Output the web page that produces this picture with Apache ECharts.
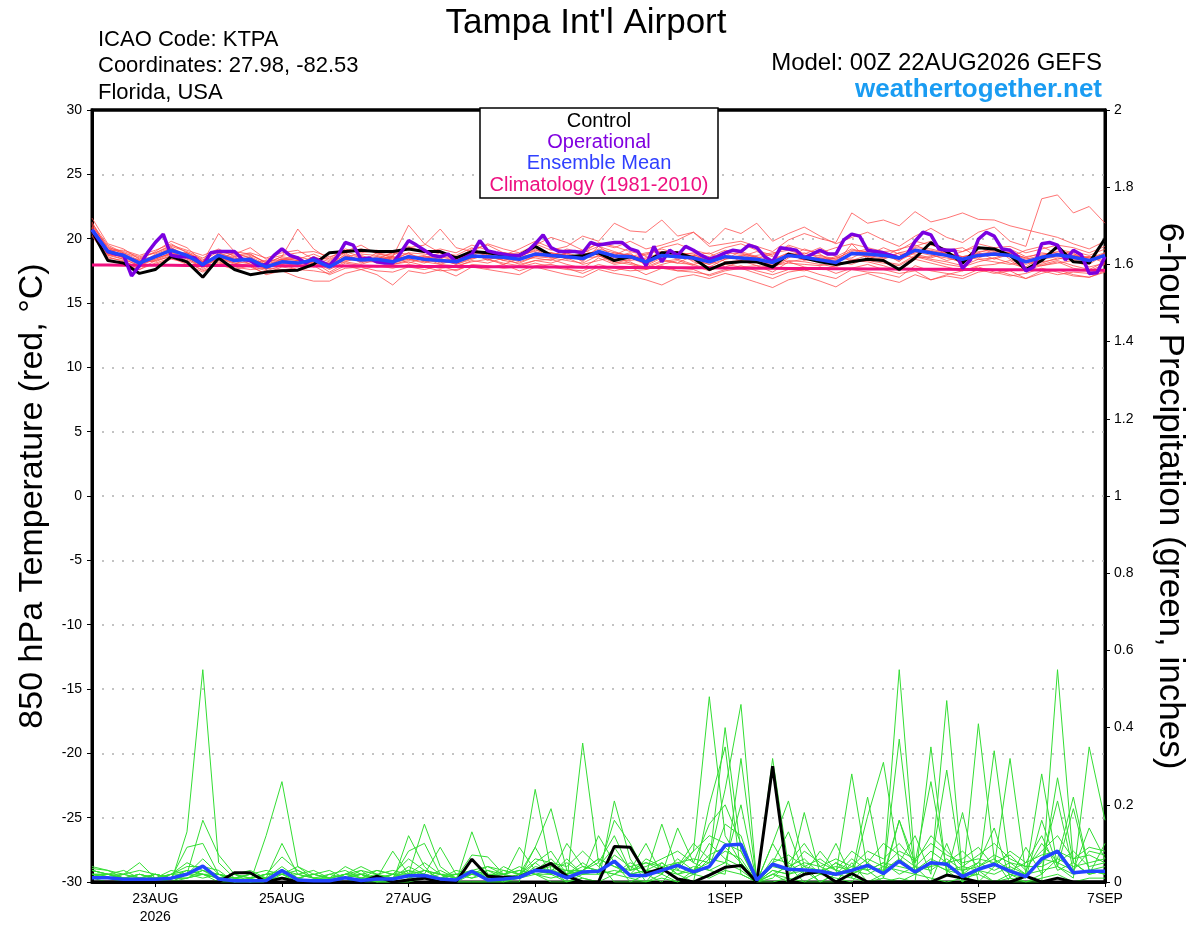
<!DOCTYPE html>
<html>
<head>
<meta charset="utf-8">
<title>Tampa Int'l Airport - GEFS</title>
<script src="https://cdn.jsdelivr.net/npm/echarts@6/dist/echarts.min.js"></script>
<style>
  html, body { margin: 0; padding: 0; background: #fff; }
  #chart { width: 1200px; height: 927px; }
</style>
</head>
<body>
<div id="chart"></div>
<script>
// 时间轴：22AUG 00Z 起，每 6 小时一个值（运行预报为 3 小时）
const tickHours = [24, 72, 120, 168, 240, 288, 336, 384];
const tickLabels = ['23AUG\n2026', '25AUG', '27AUG', '29AUG', '1SEP', '3SEP', '5SEP', '7SEP'];

// 850 hPa 温度 (°C)
const tempControl = [20.6,18.3,18.1,17.3, 17.6,18.6,18.2,17.0, 18.5,17.6,17.2,17.4, 17.5,17.55,18.0,18.9,
  19.0,19.1,19.0,19.0, 19.2,19.0,19.0,18.5, 19.0,18.9,18.7,18.7, 19.4,18.7,18.6,18.7,
  18.9,18.3,18.6,18.2, 18.9,18.9,18.5,17.6, 18.1,18.2,18.2,17.8, 18.8,18.5,18.2,18.0,
  18.2,18.4,18.3,17.6, 18.5,19.7,19.0,18.1, 19.3,19.2,18.7,17.6, 18.3,19.4,18.2,18.1, 20.0];

const tempMean = [20.7,19.0,18.7,18.1, 18.6,19.1,18.7,18.0, 18.7,18.3,18.4,17.8, 18.2,18.1,18.35,17.8,
  18.5,18.35,18.4,18.2, 18.6,18.4,18.3,18.2, 18.65,18.6,18.55,18.4, 18.8,18.7,18.6,18.45,
  19.0,18.65,18.6,18.2, 18.7,18.6,18.5,18.2, 18.6,18.5,18.4,18.15, 18.7,18.55,18.35,18.15,
  18.85,18.8,18.7,18.5, 19.1,18.9,18.7,18.4, 18.7,18.8,18.7,18.2, 18.55,18.75,18.55,18.3, 18.7];

const tempClim = [17.95,17.95,17.94,17.94, 17.93,17.93,17.92,17.92, 17.91,17.91,17.90,17.90, 17.89,17.89,17.88,17.88,
  17.87,17.87,17.86,17.85, 17.85,17.84,17.84,17.83, 17.83,17.82,17.81,17.81, 17.80,17.80,17.79,17.78,
  17.78,17.77,17.76,17.76, 17.75,17.74,17.74,17.73, 17.72,17.71,17.71,17.70, 17.69,17.68,17.68,17.67,
  17.66,17.65,17.65,17.64, 17.63,17.62,17.62,17.61, 17.60,17.59,17.59,17.58, 17.57,17.56,17.56,17.55, 17.55];

// 运行预报 3 小时一个值
const tempOper = [20.7,19.8,19.0,18.8,18.7,17.1,17.9,18.9, 19.7,20.35,18.7,18.6,18.6,18.5,17.9,18.9,
  19.0,19.0,19.0,18.4,18.3,17.9,18.0,18.7, 19.2,18.7,18.5,18.1,18.5,18.2,17.9,18.6,
  19.7,19.5,18.4,18.5,18.2,18.1,18.1,18.9, 19.85,19.5,19.1,18.7,18.6,18.8,18.2,18.5,
  18.8,19.85,19.05,18.9,18.8,18.7,18.7,19.0, 19.6,20.3,19.3,19.0,19.0,19.0,18.9,19.7,
  19.5,19.6,19.7,19.7,19.2,19.0,17.9,19.4, 18.2,19.1,18.7,19.4,19.1,18.7,18.4,18.6,
  18.9,19.1,19.0,19.5,19.3,18.6,18.2,19.3, 19.2,19.1,18.5,18.8,19.1,18.8,18.8,19.9,
  20.35,20.2,19.1,19.0,18.9,18.7,18.5,18.8, 19.8,20.5,20.3,19.2,19.1,19.1,17.7,18.35,
  19.95,20.5,20.2,19.2,19.1,18.6,17.5,17.8, 19.6,19.7,19.5,18.35,19.1,18.75,17.3,17.35, 18.6];

const tempMembers = [
  [21.6,19.6,19.2,18.4, 19.0,19.8,19.3,18.2, 20.4,19.0,18.8,18.1, 18.6,20.75,19.2,18.4,
   19.0,19.5,18.8,18.6, 21.05,19.6,18.9,18.4, 19.2,19.5,18.9,18.7, 19.6,19.1,19.4,20.2,
   19.8,21.2,20.6,20.5, 21.45,20.2,20.5,19.6, 20.8,20.4,21.2,19.8, 20.4,20.9,20.2,19.6,
   20.1,20.5,19.9,19.4, 20.2,20.8,20.1,19.7, 20.5,20.9,19.8,19.4, 23.1,23.4,22.0,22.5, 21.2],
  [20.9,19.3,19.0,18.6, 18.9,19.4,19.0,18.5, 19.1,18.8,19.3,18.4, 18.7,18.9,19.0,18.6,
   18.9,19.2,18.9,18.7, 19.3,19.5,20.75,19.3, 19.0,19.6,19.2,18.9, 19.5,20.1,19.7,19.1,
   19.6,19.3,19.8,19.2, 19.5,19.9,20.5,19.4, 19.6,19.8,19.4,19.0, 19.9,20.4,20.0,19.7,
   22.0,21.2,21.45,21.0, 22.1,21.3,21.6,22.0, 21.5,21.45,21.0,20.7, 20.4,20.1,19.6,19.2, 19.8],
  [20.3,18.6,18.2,17.8, 18.0,18.4,18.2,17.5, 18.0,17.6,17.9,17.2, 17.5,17.0,16.7,16.7,
   17.3,17.6,17.2,16.4, 17.5,17.3,17.6,17.1, 17.8,17.6,17.4,17.2, 17.8,17.5,17.2,17.0,
   17.6,17.3,17.1,16.8, 16.4,17.0,17.2,16.9, 17.3,17.0,16.6,16.2, 16.8,17.1,16.7,16.25,
   17.0,17.3,16.9,16.6, 17.2,16.8,17.1,16.9, 17.4,17.6,17.2,16.9, 17.3,17.6,17.2,17.0, 17.4],
  [20.6,18.9,18.5,18.0, 18.8,19.3,18.6,17.8, 18.9,18.5,18.2,17.6, 18.4,18.0,18.6,17.9,
   18.8,18.1,18.6,18.3, 18.9,18.2,18.0,18.4, 18.9,18.3,18.8,18.6, 19.2,18.5,18.9,18.2,
   19.4,18.6,18.9,17.9, 18.5,18.9,18.2,17.8, 18.4,19.0,18.6,17.7, 18.5,19.2,18.8,18.0,
   19.6,18.4,18.9,18.2, 19.4,19.8,18.6,18.1, 18.9,19.3,18.4,17.8, 18.6,19.2,18.9,18.0, 18.8],
  [20.8,19.2,18.9,18.3, 18.4,18.9,18.9,18.2, 18.5,18.0,18.6,18.0, 18.0,18.3,18.2,17.6,
   18.2,18.6,18.1,18.0, 18.3,18.6,18.5,18.0, 18.4,18.8,18.3,18.1, 18.6,18.9,18.4,18.6,
   18.8,18.4,18.3,18.5, 18.9,18.4,18.7,18.5, 18.9,18.2,18.1,18.4, 18.9,18.3,18.6,18.4,
   18.5,19.1,18.5,18.9, 18.8,18.5,18.9,18.6, 18.4,18.5,18.9,18.5, 18.2,18.4,18.7,18.5, 18.3],
  [21.0,19.4,18.8,18.2, 18.7,19.2,18.5,18.1, 18.4,18.9,18.5,17.9, 18.3,18.5,18.0,18.1,
   18.7,18.2,18.9,18.5, 18.4,18.1,18.6,18.5, 18.8,18.4,18.0,18.5, 18.5,18.3,18.9,19.1,
   18.7,18.1,18.4,18.8, 19.2,18.8,18.3,18.0, 18.4,18.6,19.0,18.6, 18.2,18.4,18.2,18.5,
   19.0,18.6,18.4,18.9, 19.2,18.8,18.3,18.6, 18.9,18.4,18.8,18.3, 18.1,18.5,18.3,18.6, 18.1],
  [20.4,18.7,18.4,17.9, 18.5,18.8,18.3,17.8, 18.6,18.1,17.9,17.5, 17.9,17.8,18.2,17.4,
   18.1,17.9,17.8,18.0, 18.2,17.9,17.7,17.8, 18.3,18.1,18.5,18.0, 18.3,18.4,18.0,17.7,
   18.5,18.0,18.2,17.6, 18.0,18.3,17.9,17.5, 18.0,17.8,17.9,17.4, 18.2,17.8,17.6,17.9,
   18.3,18.2,17.9,17.5, 18.4,18.1,17.8,17.5, 17.9,18.0,18.3,17.6, 17.9,18.2,17.7,17.5, 18.0],
  [20.5,18.8,18.6,18.3, 18.2,18.7,18.9,18.4, 18.3,17.9,18.1,18.3, 18.0,17.6,18.3,18.1,
   18.4,18.7,18.3,18.6, 18.5,18.7,18.1,18.6, 18.5,18.9,18.7,18.3, 18.9,18.7,18.5,18.8,
   19.0,18.7,19.3,18.6, 18.4,18.1,18.7,18.9, 18.2,18.3,18.7,18.9, 19.1,18.7,18.3,18.6,
   18.3,18.7,19.3,18.8, 18.5,18.6,19.1,19.3, 18.5,18.9,19.2,18.6, 18.8,18.9,18.4,18.2, 18.9],
  [21.2,19.5,18.9,18.5, 18.9,19.5,19.1,18.7, 19.2,18.6,18.8,18.1, 18.6,18.4,18.8,18.3,
   19.0,18.6,18.4,18.9, 18.8,18.5,18.9,18.7, 19.3,18.6,18.9,18.8, 19.0,18.6,19.2,18.9,
   19.4,19.0,18.6,18.9, 19.0,18.7,18.9,18.6, 19.1,18.9,18.5,18.8, 19.4,18.8,19.3,18.6,
   19.2,18.9,18.6,19.2, 19.5,19.0,18.6,19.0, 19.4,18.8,18.6,19.1, 19.4,18.8,19.0,18.7, 19.2],
  [20.2,18.5,18.3,17.6, 18.3,18.6,18.1,17.6, 18.2,17.8,17.6,17.7, 17.6,17.5,17.9,17.2,
   17.7,17.8,17.5,17.4, 17.8,17.6,17.9,17.5, 18.0,17.9,17.7,17.8, 18.1,17.8,17.6,17.5,
   18.0,17.7,17.5,17.6, 17.9,17.5,17.4,17.2, 17.6,17.9,17.5,17.2, 17.6,17.5,17.8,17.3,
   17.7,18.0,17.6,17.3, 17.5,16.8,17.2,17.5, 17.8,17.4,17.1,17.3, 17.7,17.4,17.1,17.0, 17.5],
  [20.7,19.1,18.7,18.0, 18.6,19.0,18.4,17.9, 18.8,18.4,18.3,17.8, 18.1,17.9,18.5,17.7,
   18.4,18.3,18.5,18.1, 18.6,18.3,18.2,18.1, 18.6,18.5,18.4,18.5, 18.7,18.9,18.7,18.4,
   18.9,18.8,18.5,18.0, 18.6,18.7,18.4,18.0, 18.7,18.4,18.2,18.0, 18.6,18.6,18.4,18.1,
   18.8,18.6,18.8,18.4, 19.0,18.7,18.5,18.2, 18.6,18.9,18.6,18.0, 18.4,18.6,18.5,18.3, 18.6],
  [20.9,19.0,18.5,18.4, 18.6,19.3,18.7,18.0, 18.6,18.2,18.6,17.6, 18.3,18.2,18.1,18.0,
   18.3,18.5,18.6,18.3, 18.7,18.4,18.3,18.2, 18.5,18.6,18.6,18.4, 18.7,18.6,18.8,18.3,
   19.1,18.5,18.8,18.0, 18.8,18.5,18.6,18.3, 18.5,18.6,18.3,18.2, 18.8,18.4,18.5,18.2,
   18.9,18.7,18.5,18.6, 19.0,19.1,18.8,18.4, 18.8,18.7,18.6,18.3, 18.6,18.8,18.7,18.4, 18.8],
  [20.6,18.8,18.4,17.9, 18.4,18.9,18.5,17.7, 18.5,18.1,18.2,17.9, 18.2,18.0,18.6,18.2,
   18.9,18.2,18.2,18.1, 18.4,18.2,18.4,18.3, 18.7,18.5,18.6,18.2, 18.6,18.5,18.3,18.1,
   18.7,18.2,18.0,17.7, 18.2,18.4,18.0,17.6, 18.1,18.3,17.9,17.8, 18.3,18.2,18.0,17.8,
   18.4,18.3,18.1,17.9, 18.6,18.3,18.0,17.8, 18.2,18.5,18.1,17.7, 18.0,18.3,17.9,17.6, 18.2],
  [21.1,19.3,18.6,18.1, 18.7,19.0,18.8,18.0, 18.9,18.4,18.7,18.2, 18.4,18.3,18.2,17.9,
   18.6,18.8,18.7,18.4, 18.9,18.8,18.6,18.3, 18.9,18.8,18.9,18.6, 19.1,18.9,18.7,18.6,
   19.2,18.9,18.7,18.3, 18.9,19.0,18.6,18.4, 18.9,18.8,18.6,18.3, 18.9,18.7,18.7,18.4,
   19.1,19.0,18.8,18.6, 19.3,19.2,18.9,18.5, 19.0,19.1,18.9,18.4, 18.7,19.0,18.8,18.5, 18.9],
  [20.5,18.9,18.6,18.2, 18.3,18.8,18.6,17.9, 18.4,18.6,18.0,17.7, 18.5,18.3,17.8,18.0,
   18.2,18.0,18.4,18.6, 18.1,18.5,18.0,17.9, 18.2,18.4,18.1,17.9, 18.3,18.1,18.5,18.0,
   18.3,18.6,18.1,17.8, 18.3,18.1,18.0,18.3, 17.8,18.2,18.4,17.9, 18.1,18.0,17.9,18.2,
   18.0,18.5,18.2,18.0, 18.7,18.4,18.2,17.9, 18.4,18.2,18.0,18.2, 17.9,18.1,18.3,17.8, 18.1],
  [21.3,19.1,19.1,18.7, 19.1,19.6,18.9,18.3, 19.0,18.7,18.9,18.5, 18.9,19.1,18.4,18.5,
   19.2,18.9,19.1,18.8, 19.4,18.9,19.2,18.9, 19.5,19.1,18.7,19.2, 19.8,19.3,19.0,18.9,
   19.7,19.4,19.0,18.7, 19.3,19.6,19.1,18.8, 19.3,19.6,19.1,18.7, 19.5,19.1,18.9,19.3,
   19.6,19.3,19.0,19.1, 19.8,19.5,19.2,19.0, 19.6,19.3,19.4,18.9, 19.2,19.5,19.3,18.9, 19.4],
  [20.4,18.4,18.0,17.6, 18.1,18.5,18.0,17.4, 18.1,17.9,17.8,17.3, 17.8,17.6,17.5,17.3,
   17.9,17.6,17.9,17.7, 18.0,17.8,17.5,17.6, 17.9,17.7,18.0,17.5, 17.9,18.0,17.7,17.3,
   17.8,17.5,17.8,17.2, 17.7,17.5,17.6,17.1, 17.5,17.7,17.3,16.9, 17.4,17.6,17.2,16.9,
   17.6,17.4,17.3,17.0, 17.9,17.5,17.3,17.1, 17.6,17.3,17.5,16.9, 17.5,17.2,17.4,17.3, 17.6],
  [20.8,18.7,18.8,18.0, 18.5,19.1,18.7,18.2, 18.7,18.3,18.4,18.0, 18.4,18.6,18.3,17.9,
   18.6,18.4,18.3,18.5, 18.5,18.6,18.4,18.0, 18.5,18.7,18.3,18.6, 18.8,18.6,18.9,18.5,
   18.6,18.9,18.7,18.4, 18.6,18.9,18.8,18.2, 18.5,18.7,18.5,18.1, 18.6,18.9,18.5,18.3,
   18.9,19.2,18.7,18.3, 18.9,19.0,18.9,18.6, 18.8,19.0,18.9,18.5, 18.9,18.7,18.6,18.6, 18.7]
];

// 6 小时降水 (inches)
const precControl = [0,0,0,0, 0,0,0,0, 0,0.024,0.024,0, 0.01,0,0,0,
  0,0,0.015,0, 0.005,0.01,0,0, 0.059,0.015,0.012,0.013, 0.03,0.048,0.015,0,
  0,0.092,0.09,0.022, 0.035,0.008,0,0.018, 0.038,0.043,0,0.30, 0,0.02,0.027,0,
  0.022,0,0,0, 0,0,0.018,0.01, 0,0,0,0.015, 0,0.01,0,0, 0];

const precMean = [0.011,0.011,0.007,0.007, 0.007,0.01,0.02,0.041, 0.008,0.003,0.003,0.004, 0.03,0.005,0.003,0.003,
  0.011,0.004,0.008,0.008, 0.016,0.017,0.008,0.005, 0.028,0.005,0.008,0.012, 0.03,0.027,0.011,0.026,
  0.028,0.054,0.017,0.017, 0.03,0.043,0.026,0.04, 0.095,0.098,0.005,0.046, 0.033,0.031,0.028,0.02,
  0.03,0.043,0.022,0.054, 0.026,0.05,0.046,0.014, 0.033,0.046,0.028,0.014, 0.06,0.08,0.024,0.028, 0.028];

const precMembers = [
  [0.03,0.02,0.01,0, 0,0,0.13,0.55, 0.05,0.01,0,0, 0.02,0,0,0, 0,0.01,0,0, 0,0.02,0,0,
   0,0,0,0.02, 0.05,0.02,0,0.36, 0.05,0,0,0.02, 0,0.04,0.08,0.48, 0.12,0.05,0,0.02, 0,0.03,0,0,
   0.05,0,0.02,0.55, 0.04,0,0.1,0, 0.03,0,0.02,0, 0,0.55,0.05,0.02, 0.03],
  [0.04,0.03,0.02,0.05, 0.01,0,0.02,0.16, 0.07,0.02,0,0.01, 0.04,0.01,0,0, 0.02,0.03,0,0, 0.12,0.04,0,0,
   0.13,0.02,0,0, 0.24,0.03,0,0.02, 0.12,0.05,0,0, 0.02,0,0.03,0.05, 0.40,0.08,0,0.32, 0.04,0,0.02,0.01,
   0,0.05,0.02,0.37, 0.02,0.05,0.03,0, 0.41,0.06,0,0, 0.02,0.06,0.22,0.03, 0.02],
  [0.02,0.01,0,0.01, 0.02,0.01,0.09,0.10, 0.02,0,0,0.12, 0.26,0.04,0.01,0, 0,0,0.01,0.08, 0.02,0.15,0.04,0.01,
   0.07,0.065,0.02,0.01, 0.09,0.19,0.03,0.01, 0,0.21,0.06,0, 0.05,0.02,0,0.2, 0.35,0.02,0,0.1, 0.21,0.04,0,0.02,
   0.28,0.03,0,0.01, 0,0.35,0.02,0.18, 0,0.04,0.32,0.02, 0.28,0.04,0.01,0.35, 0.16],
  [0.03,0.02,0.01,0.02, 0.01,0.03,0.02,0.06, 0.02,0.01,0.02,0.01, 0.10,0.02,0.03,0.01, 0.04,0.02,0,0.01, 0.08,0.1,0.02,0,
   0.02,0.01,0.03,0.02, 0.09,0.02,0.1,0.04, 0.03,0.16,0.1,0.02, 0.15,0.03,0.02,0.06, 0.24,0.46,0,0.05, 0.13,0.02,0.08,0.03,
   0.02,0.22,0.01,0.16, 0.05,0.26,0.03,0.02, 0.05,0.14,0.01,0.09, 0.02,0.27,0.05,0.02, 0.10],
  [0.02,0.02,0.03,0.01, 0,0.02,0.04,0.04, 0.03,0,0.01,0.02, 0.065,0.03,0.01,0.01, 0.02,0.04,0.02,0.01, 0.03,0.02,0.09,0.02,
   0.02,0.03,0.01,0.09, 0.03,0.06,0.02,0.03, 0.05,0.12,0.03,0.10, 0.02,0.14,0.05,0.03, 0.02,0.32,0,0.02, 0.01,0.18,0.02,0.1,
   0.01,0.17,0.31,0.05, 0.12,0.02,0.47,0.02, 0.03,0.05,0.02,0.01, 0.16,0.04,0.19,0.03, 0.04],
  [0.035,0.03,0.01,0, 0.02,0.01,0.01,0.03, 0.01,0.02,0.01,0, 0.03,0.01,0.02,0.03, 0.01,0.02,0.01,0.02, 0.02,0.03,0.01,0.02,
   0.03,0.01,0.02,0.04, 0.02,0.02,0.06,0.02, 0.03,0.02,0.05,0.03, 0.03,0.05,0.02,0.04, 0.15,0.12,0,0.03, 0.02,0.03,0.02,0.05,
   0.02,0.04,0.02,0.16, 0.03,0.04,0.29,0.02, 0.02,0.34,0.03,0.02, 0.05,0.21,0.03,0.14, 0.06],
  [0.01,0.02,0.01,0.02, 0.01,0,0.02,0.02, 0.01,0.02,0.01,0.02, 0.02,0.01,0,0.02, 0.03,0.01,0.02,0.03, 0.02,0.05,0.02,0.01,
   0.03,0.02,0.01,0.02, 0.03,0.04,0.03,0.02, 0.02,0.07,0.04,0.02, 0.03,0.02,0.04,0.03, 0.05,0.2,0,0.04, 0.03,0.05,0.04,0.02,
   0.06,0.03,0.05,0.02, 0.04,0.03,0.06,0.03, 0.05,0.03,0.05,0.04, 0.04,0.06,0.04,0.05, 0.06],
  [0.02,0.01,0.02,0.01, 0.02,0.01,0.01,0.02, 0.01,0,0.01,0.02, 0.03,0.02,0.01,0, 0.01,0.02,0,0.02, 0.03,0.01,0.03,0.01,
   0.02,0.02,0.01,0.01, 0.04,0.03,0.02,0.05, 0.02,0.03,0.02,0.03, 0.02,0.06,0.03,0.1, 0.06,0.04,0,0.01, 0.05,0.02,0.03,0.04,
   0.03,0.02,0.04,0.03, 0.02,0.05,0.03,0.04, 0.03,0.02,0.04,0.02, 0.03,0.04,0.02,0.03, 0.02],
  [0.01,0.01,0.02,0.03, 0.02,0.01,0.03,0.02, 0.01,0.02,0.03,0.01, 0.02,0.04,0.02,0.01, 0.01,0.03,0.02,0.01, 0.04,0.02,0.01,0.03,
   0.02,0.04,0.03,0.02, 0.06,0.05,0.04,0.08, 0.04,0.09,0.03,0.05, 0.04,0.03,0.08,0.12, 0.1,0.08,0,0.05, 0.07,0.04,0.06,0.03,
   0.08,0.05,0.1,0.07, 0.04,0.08,0.05,0.06, 0.09,0.04,0.08,0.05, 0.07,0.08,0.06,0.09, 0.08],
  [0.02,0.02,0.01,0.01, 0.01,0.02,0.02,0.01, 0.02,0.01,0,0.01, 0.01,0.02,0.01,0.01, 0.02,0.01,0.01,0.02, 0.01,0.03,0.02,0.01,
   0.02,0.01,0.04,0.02, 0.03,0.02,0.03,0.03, 0.06,0.04,0.02,0.06, 0.04,0.05,0.06,0.05, 0.08,0.06,0,0.02, 0.04,0.06,0.02,0.05,
   0.03,0.06,0.04,0.08, 0.06,0.1,0.07,0.05, 0.06,0.05,0.07,0.03, 0.1,0.05,0.08,0.04, 0.05],
  [0.01,0,0,0, 0,0,0.01,0.02, 0,0,0,0, 0.01,0,0,0, 0,0,0,0, 0,0.01,0,0,
   0,0,0,0.01, 0.02,0,0,0.01, 0,0.02,0.01,0, 0.01,0,0.02,0.01, 0.03,0.02,0,0, 0.01,0,0,0.02,
   0.01,0,0.01,0, 0.02,0.01,0,0.01, 0.02,0,0.01,0, 0.01,0.02,0,0.01, 0.01],
  [0.03,0.02,0.02,0.01, 0.01,0.02,0.03,0.02, 0.02,0.01,0.02,0.03, 0.02,0.01,0.02,0.01, 0.02,0.01,0.03,0.02, 0.01,0.02,0.01,0.02,
   0.01,0.03,0.02,0.03, 0.02,0.01,0.02,0.04, 0.03,0.02,0.04,0.05, 0.03,0.04,0.1,0.06, 0.05,0.03,0,0.1, 0.03,0.08,0.05,0.03,
   0.02,0.04,0.03,0.06, 0.03,0.04,0.05,0.08, 0.04,0.06,0.03,0.05, 0.12,0.03,0.05,0.02, 0.03],
  [0.02,0.01,0.01,0.02, 0.01,0.02,0.05,0.03, 0.02,0.01,0.01,0.02, 0.02,0.03,0.01,0.02, 0.01,0.02,0.03,0.02, 0.06,0.03,0.02,0.01,
   0.03,0.04,0.02,0.01, 0.05,0.08,0.02,0.03, 0.06,0.04,0.03,0.04, 0.06,0.08,0.05,0.15, 0.2,0.1,0,0.06, 0.05,0.1,0.04,0.06,
   0.04,0.08,0.06,0.1, 0.05,0.12,0.08,0.04, 0.07,0.1,0.06,0.04, 0.08,0.12,0.06,0.07, 0.05],
  [0.01,0.02,0.01,0.01, 0.02,0.01,0.02,0.03, 0.01,0.01,0.02,0.01, 0.01,0.01,0.02,0.01, 0.02,0.02,0.01,0.01, 0.02,0.01,0.02,0.02,
   0.01,0.02,0.02,0.03, 0.02,0.03,0.05,0.02, 0.03,0.05,0.02,0.03, 0.05,0.02,0.03,0.07, 0.09,0.05,0,0.03, 0.02,0.04,0.03,0.02,
   0.04,0.03,0.05,0.04, 0.03,0.06,0.04,0.03, 0.04,0.07,0.05,0.02, 0.06,0.05,0.03,0.08, 0.07]
];

const FONT = "'Liberation Sans', Arial, sans-serif";

function toPairs(values, stepHours) {
    return values.map((v, i) => [i * stepHours, v]);
}

function lineSeries(name, values, stepHours, axis, color, width, z) {
    return {
        name: name,
        type: 'line',
        yAxisIndex: axis,
        data: toPairs(values, stepHours),
        symbol: 'none',
        silent: true,
        lineStyle: { color: color, width: width },
        z: z
    };
}

function label(text, x, y, size, color, align, extra) {
    return {
        type: 'text', z: 101,
        style: Object.assign({
            text: text, x: x, y: y, fontSize: size, fontFamily: FONT, fill: color,
            textAlign: align, textVerticalAlign: 'middle'
        }, extra || {})
    };
}

const chart = echarts.init(document.getElementById('chart'));

const series = [];
precMembers.forEach((m, k) => series.push(lineSeries('prec' + k, m, 6, 1, '#33dd33', 1, 2)));
tempMembers.forEach((m, k) => series.push(lineSeries('temp' + k, m, 6, 0, 'rgba(255,70,70,0.75)', 1, 2)));
series.push(lineSeries('Climatology (1981-2010)', tempClim, 6, 0, '#f0107f', 3, 3));
series.push(lineSeries('precControl', precControl, 6, 1, '#000', 3, 4));
series.push(lineSeries('precMean', precMean, 6, 1, '#2244ff', 3.5, 5));
series.push(lineSeries('Control', tempControl, 6, 0, '#000', 3, 4));
series.push(lineSeries('Operational', tempOper, 3, 0, '#7a00e0', 3.5, 5));
series.push(lineSeries('Ensemble Mean', tempMean, 6, 0, '#2244ff', 3.5, 6));

const option = {
    animation: false,
    backgroundColor: '#fff',
    textStyle: { fontFamily: FONT },
    grid: {
        left: 92, right: 95, top: 110, bottom: 45,
        show: true, borderColor: '#000', borderWidth: 3
    },
    xAxis: {
        type: 'value',
        min: 0,
        max: 384,
        axisLine: { onZero: false, lineStyle: { color: '#000', width: 3 } },
        axisTick: { customValues: tickHours, length: 5, lineStyle: { color: '#000', width: 1 } },
        axisLabel: {
            customValues: tickHours,
            color: '#000', fontSize: 14, lineHeight: 18, margin: 8, fontFamily: FONT,
            formatter: function (v) {
                const k = tickHours.indexOf(v);
                return k >= 0 ? tickLabels[k] : '';
            }
        },
        splitLine: { show: false }
    },
    yAxis: [
        {
            type: 'value',
            min: -30, max: 30, interval: 5,
            position: 'left',
            name: '850 hPa Temperature (red, °C)',
            nameLocation: 'middle',
            nameRotate: 90,
            nameGap: 42,
            nameTextStyle: { fontSize: 34, color: '#000', fontFamily: FONT },
            axisLine: { show: true, lineStyle: { color: '#000', width: 3 } },
            axisTick: { show: true, length: 5, lineStyle: { color: '#000', width: 1 } },
            axisLabel: { color: '#000', fontSize: 14, margin: 10, fontFamily: FONT },
            splitLine: { show: true, lineStyle: { color: '#b0b0b0', width: 1.5, type: [2, 8] } }
        },
        {
            type: 'value',
            min: 0, max: 2, interval: 0.2,
            position: 'right',
            name: '6-hour Precipitation (green, inches)',
            nameLocation: 'middle',
            nameRotate: -90,
            nameGap: 47,
            nameTextStyle: { fontSize: 35, color: '#000', fontFamily: FONT },
            axisLine: { show: true, lineStyle: { color: '#000', width: 3 } },
            axisTick: { show: true, length: 5, lineStyle: { color: '#000', width: 1 } },
            axisLabel: {
                color: '#000', fontSize: 14, margin: 9, fontFamily: FONT,
                formatter: v => String(Math.round(v * 10) / 10)
            },
            splitLine: { show: false }
        }
    ],
    graphic: [
        // 顶部边框盖住虚线网格
        { type: 'line', z: 100, shape: { x1: 91, y1: 110, x2: 1106, y2: 110 }, style: { stroke: '#000', lineWidth: 3 } },
        label("Tampa Int'l Airport", 586, 23, 35, '#000', 'center'),
        label('ICAO Code: KTPA', 98, 40, 22, '#000', 'left'),
        label('Coordinates: 27.98, -82.53', 98, 66, 22, '#000', 'left'),
        label('Florida, USA', 98, 93, 22, '#000', 'left'),
        label('Model: 00Z 22AUG2026 GEFS', 1102, 63, 24, '#000', 'right'),
        label('weathertogether.net', 1102, 90, 26, '#1a9cf2', 'right', { fontWeight: 'bold' }),
        // 图例框
        { type: 'rect', z: 100, shape: { x: 480, y: 108, width: 238, height: 90 }, style: { fill: '#fff', stroke: '#000', lineWidth: 1.5 } },
        label('Control', 599, 121, 20, '#000', 'center'),
        label('Operational', 599, 142, 20, '#8000e0', 'center'),
        label('Ensemble Mean', 599, 163, 20, '#3040ff', 'center'),
        label('Climatology (1981-2010)', 599, 185, 20, '#ee1080', 'center')
    ],
    series: series
};

chart.setOption(option);
</script>
</body>
</html>
